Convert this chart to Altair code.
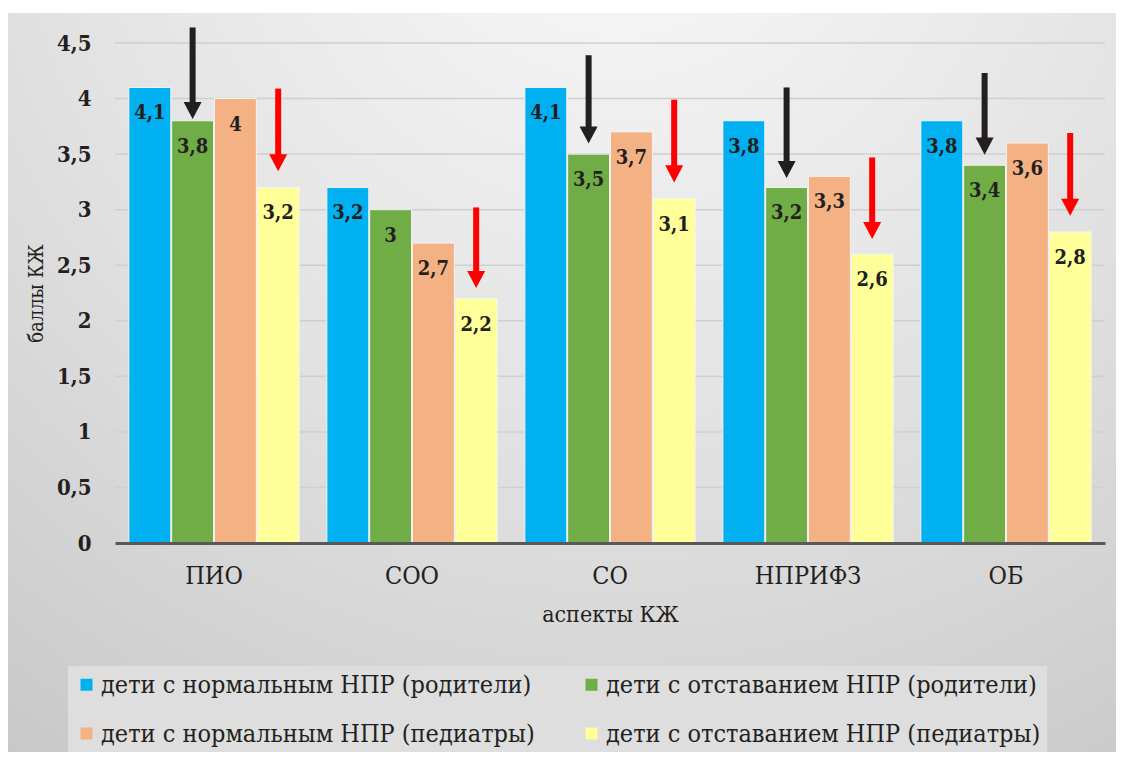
import altair as alt
import pandas as pd

categories = ["ПИО", "СОО", "СО", "НПРИФЗ", "ОБ"]
series = [
    "дети с нормальным НПР (родители)",
    "дети с отставанием НПР (родители)",
    "дети с нормальным НПР (педиатры)",
    "дети с отставанием НПР (педиатры)",
]
colors = ["#00B0F0", "#70AD47", "#F4B183", "#FFFF99"]
normal_parents = [4.1, 3.2, 4.1, 3.8, 3.8]
delay_parents = [3.8, 3.0, 3.5, 3.2, 3.4]
normal_ped = [4.0, 2.7, 3.7, 3.3, 3.6]
delay_ped = [3.2, 2.2, 3.1, 2.6, 2.8]
y_ticks = [0, 0.5, 1, 1.5, 2, 2.5, 3, 3.5, 4, 4.5]

arrow_category = ["ПИО", "ПИО", "СОО", "СО", "СО", "НПРИФЗ", "НПРИФЗ", "ОБ", "ОБ"]
arrow_series_idx = [1, 3, 3, 1, 3, 1, 3, 1, 3]
arrow_start = [4.64, 4.09, 3.02, 4.39, 3.99, 4.10, 3.47, 4.23, 3.69]
arrow_tip = [3.82, 3.35, 2.30, 3.60, 3.25, 3.29, 2.74, 3.50, 2.95]
arrow_color = ["#231f20", "#ff0000", "#ff0000", "#231f20", "#ff0000",
               "#231f20", "#ff0000", "#231f20", "#ff0000"]

FONT = "DejaVu Serif Condensed"

rows = []
for s, vals in zip(series, [normal_parents, delay_parents, normal_ped, delay_ped]):
    for c, v in zip(categories, vals):
        rows.append({"cat": c, "ser": s, "val": v,
                     "label": f"{v:g}".replace(".", ",")})
df = pd.DataFrame(rows)

arrows = pd.DataFrame({
    "cat": arrow_category,
    "ser": [series[i] for i in arrow_series_idx],
    "start": arrow_start,
    "tip": arrow_tip,
    "col": arrow_color,
})

grid_df = pd.DataFrame({"g": y_ticks[1:]})

W, H = 990, 500

x_enc = alt.X("cat:N", sort=categories,
              scale=alt.Scale(paddingInner=0.14, paddingOuter=0.07),
              axis=alt.Axis(title="аспекты КЖ", labelAngle=0, labelFont=FONT,
                            labelFontSize=25, labelColor="#231f20", labelPadding=20,
                            ticks=False, domainColor="#595959", domainWidth=3,
                            titleFont=FONT, titleFontSize=23, titleFontWeight="normal",
                            titleColor="#231f20", titlePadding=15, zindex=1, grid=False))
xoff = alt.XOffset("ser:N", sort=series, scale=alt.Scale(paddingInner=0.02))
y_scale = alt.Scale(domain=[0, 4.5])

bg = alt.Chart(pd.DataFrame({"a": [0]})).mark_rect(
    fill={"gradient": "radial",
          "stops": [{"offset": 0, "color": "#fafafa"},
                    {"offset": 0.5, "color": "#e2e2e2"},
                    {"offset": 1, "color": "#c4c4c4"}],
          "x1": 0.55, "y1": 0.02, "r1": 0, "x2": 0.55, "y2": 0.02, "r2": 1.05},
).encode(x=alt.value(-107), x2=alt.value(1005), y=alt.value(-30), y2=alt.value(717))

grid = alt.Chart(grid_df).mark_rule(color="#cfcfcf", strokeWidth=1.5).encode(
    x=alt.value(0), x2=alt.value(W), y=alt.Y("g:Q", scale=y_scale))

bars = alt.Chart(df).mark_bar(stroke="#f4f4f4", strokeWidth=1).encode(
    x=x_enc,
    xOffset=xoff,
    y=alt.Y("val:Q", scale=y_scale,
            axis=alt.Axis(values=y_ticks, title="баллы КЖ",
                          labelExpr="replace(toString(datum.value), '.', ',')",
                          labelFont=FONT, labelFontSize=22, labelFontWeight="bold",
                          labelColor="#231f20", labelPadding=24, ticks=False,
                          domain=False, grid=False, titleFont=FONT, titleFontSize=20,
                          titleFontWeight="normal", titleColor="#231f20",
                          titlePadding=10, zindex=1)),
    color=alt.Color("ser:N", sort=series,
                    scale=alt.Scale(domain=series, range=colors),
                    legend=alt.Legend(orient="none", legendX=-47, legendY=623,
                                      columns=2, direction="horizontal", title=None,
                                      symbolType="square",
                                      symbolSize=144, symbolStrokeWidth=0,
                                      labelFont=FONT, labelFontSize=25,
                                      labelColor="#231f20", labelLimit=0,
                                      labelOffset=2, columnPadding=44,
                                      rowPadding=23, padding=6,
                                      fillColor="#dedede", zindex=1)),
)

text = alt.Chart(df).mark_text(baseline="middle", dy=26, font=FONT, fontSize=20,
                               fontWeight="bold", color="#231f20").encode(
    x=alt.X("cat:N", sort=categories), xOffset=alt.XOffset("ser:N", sort=series),
    y=alt.Y("val:Q", scale=y_scale), text="label:N")

shafts = alt.Chart(arrows).mark_rule(strokeWidth=6, y2Offset=-10).encode(
    x=alt.X("cat:N", sort=categories), xOffset=alt.XOffset("ser:N", sort=series),
    y=alt.Y("start:Q", scale=y_scale), y2="tip:Q",
    color=alt.Color("col:N", scale=None))

heads = alt.Chart(arrows).mark_point(shape="M-1,-0.95L1,-0.95L0,0.95Z", filled=True,
                                     size=324, opacity=1, yOffset=-8).encode(
    x=alt.X("cat:N", sort=categories), xOffset=alt.XOffset("ser:N", sort=series),
    y=alt.Y("tip:Q", scale=y_scale),
    color=alt.Color("col:N", scale=None))

chart = alt.layer(bg, grid, bars, text, shafts, heads).resolve_scale(
    color="independent").properties(
    width=W, height=H,
    autosize=alt.AutoSizeParams(type="none"),
    padding={"left": 107, "top": 35, "right": 11, "bottom": 209},
    background="white",
).configure_view(stroke=None)

chart.save("out.html", embed_options={"renderer": "svg", "actions": False})
